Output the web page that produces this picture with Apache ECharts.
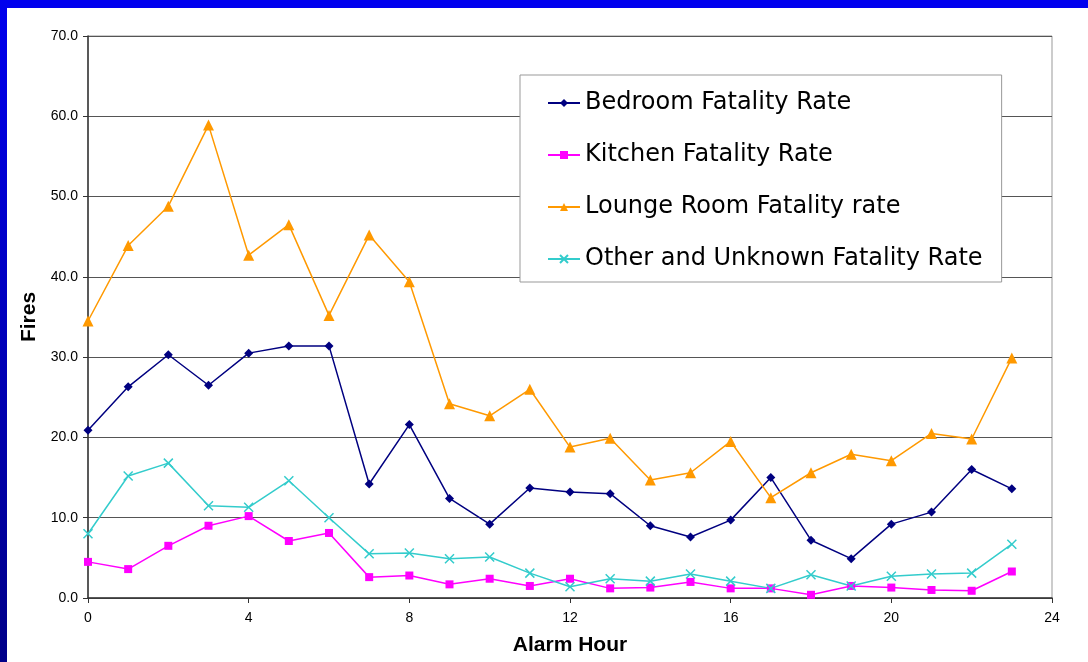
<!DOCTYPE html>
<html>
<head>
<meta charset="utf-8">
<script src="https://cdn.jsdelivr.net/npm/echarts@6/dist/echarts.min.js"></script>
<style>
  html, body { margin: 0; padding: 0; background: #ffffff; }
  #chart { width: 1088px; height: 662px; }
</style>
</head>
<body>
<div id="chart"></div>
<script>
// Fire fatality rates by alarm hour, grouped by room of fire origin
const hours = [0, 1, 2, 3, 4, 5, 6, 7, 8, 9, 10, 11, 12, 13, 14, 15, 16, 17, 18, 19, 20, 21, 22, 23];
const bedroom = [20.9, 26.3, 30.3, 26.5, 30.5, 31.4, 31.4, 14.2, 21.6, 12.4, 9.2, 13.7, 13.2, 13.0, 9.0, 7.6, 9.7, 15.0, 7.2, 4.9, 9.2, 10.7, 16.0, 13.6];
const kitchen = [4.5, 3.6, 6.5, 9.0, 10.2, 7.1, 8.1, 2.6, 2.8, 1.7, 2.4, 1.5, 2.4, 1.2, 1.3, 2.0, 1.2, 1.2, 0.4, 1.5, 1.3, 1.0, 0.9, 3.3];
const lounge = [34.5, 43.9, 48.8, 58.9, 42.7, 46.5, 35.2, 45.2, 39.4, 24.2, 22.7, 26.0, 18.8, 19.9, 14.7, 15.6, 19.5, 12.5, 15.6, 17.9, 17.1, 20.5, 19.8, 29.9];
const other = [8.0, 15.2, 16.8, 11.5, 11.3, 14.6, 10.0, 5.5, 5.6, 4.9, 5.1, 3.1, 1.4, 2.4, 2.1, 3.0, 2.1, 1.2, 2.9, 1.5, 2.7, 3.0, 3.1, 6.7];
const seriesNames = ['Bedroom Fatality Rate', 'Kitchen Fatality Rate', 'Lounge Room Fatality rate', 'Other and Unknown Fatality Rate'];

const font = 'Liberation Sans, Arial, sans-serif';
const legendFont = 'DejaVu Sans, sans-serif';
const pairs = arr => hours.map((h, i) => [h, arr[i]]);

const lineSeries = (name, data, color, symbol, size, extra) => Object.assign({
  name: name,
  type: 'line',
  data: pairs(data),
  symbol: symbol,
  symbolSize: size,
  showAllSymbol: true,
  lineStyle: { color: color, width: 1.5 },
  itemStyle: { color: color },
  emphasis: { disabled: true },
  animation: false
}, extra || {});

const chart = echarts.init(document.getElementById('chart'), null, { renderer: 'canvas' });
chart.setOption({
  backgroundColor: '#ffffff',
  animation: false,
  graphic: [
    {
      type: 'rect', left: 0, top: 0, z: 100,
      shape: { width: 1088, height: 8 },
      style: { fill: '#0000ee' }
    },
    {
      type: 'rect', left: 0, top: 0, z: 100,
      shape: { width: 7, height: 662 },
      style: {
        fill: new echarts.graphic.LinearGradient(0, 0, 0, 1, [
          { offset: 0, color: '#0000ee' },
          { offset: 1, color: '#000088' }
        ])
      }
    }
  ],
  grid: {
    left: 88, right: 36, top: 36, bottom: 64,
    show: true, borderColor: '#999999', borderWidth: 1
  },
  legend: {
    orient: 'vertical',
    left: 520, top: 75,
    padding: [15, 19, 10, 27],
    itemGap: 26,
    itemWidth: 32,
    itemHeight: 10,
    backgroundColor: '#ffffff',
    borderColor: '#999999',
    borderWidth: 1,
    borderRadius: 0,
    textStyle: { fontFamily: legendFont, fontSize: 24, color: '#000000', lineHeight: 26 },
    data: seriesNames
  },
  xAxis: {
    type: 'value',
    min: 0, max: 24, interval: 4,
    name: 'Alarm Hour',
    nameLocation: 'middle',
    nameGap: 37,
    nameTextStyle: { fontFamily: font, fontSize: 21, fontWeight: 'bold', color: '#000000' },
    axisLine: { show: true, lineStyle: { color: '#333333', width: 1.5 } },
    axisTick: { show: true, length: 5, lineStyle: { color: '#333333' } },
    axisLabel: { fontFamily: font, fontSize: 14, color: '#000000', margin: 13 },
    splitLine: { show: false }
  },
  yAxis: {
    type: 'value',
    min: 0, max: 70, interval: 10,
    name: 'Fires',
    nameLocation: 'middle',
    nameGap: 45,
    nameRotate: 90,
    nameTextStyle: { fontFamily: font, fontSize: 21, fontWeight: 'bold', color: '#000000' },
    axisLine: { show: true, lineStyle: { color: '#333333', width: 1.5 } },
    axisTick: { show: true, length: 5, lineStyle: { color: '#333333' } },
    axisLabel: {
      fontFamily: font, fontSize: 14, color: '#000000', margin: 10,
      formatter: v => v.toFixed(1)
    },
    splitLine: { show: true, lineStyle: { color: '#555555', width: 1 } }
  },
  series: [
    lineSeries(seriesNames[0], bedroom, '#000080', 'diamond', 9),
    lineSeries(seriesNames[1], kitchen, '#ff00ff', 'rect', 8),
    lineSeries(seriesNames[2], lounge, '#ff9900', 'triangle', 11),
    lineSeries(seriesNames[3], other, '#33cccc', 'path://M0,0L10,10M10,0L0,10', 9, {
      itemStyle: { color: 'rgba(0,0,0,0)', borderColor: '#33cccc', borderWidth: 1.5 }
    })
  ]
});
</script>
</body>
</html>
